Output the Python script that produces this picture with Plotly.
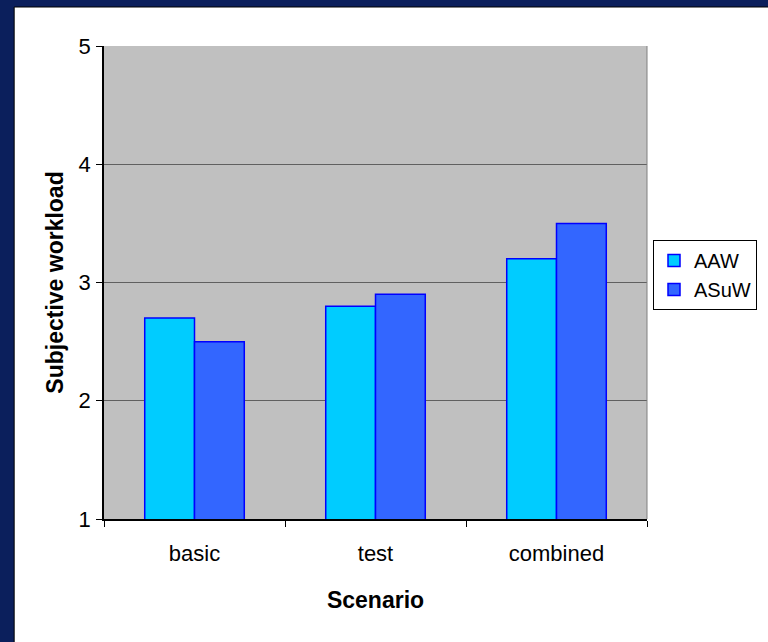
import plotly.graph_objects as go

# Data
scenarios = ["basic", "test", "combined"]
aaw = [2.7, 2.8, 3.2]
asuw = [2.5, 2.9, 3.5]
series_names = ["AAW", "ASuW"]
y_ticks = [1, 2, 3, 4, 5]

FONT = "Liberation Sans, Arial, sans-serif"
NAVY = "#0b1f5c"

fig = go.Figure()
fig.add_trace(go.Bar(
    x=scenarios, y=aaw, name=series_names[0],
    marker=dict(color="#00ccff", line=dict(color="#0000ff", width=1.5)),
))
fig.add_trace(go.Bar(
    x=scenarios, y=asuw, name=series_names[1],
    marker=dict(color="#3366ff", line=dict(color="#0000ff", width=1.5)),
))

# Plot area occupies pixels x 104..648, y 46..519 of the 768x642 page
L, R, T, B = 104, 648, 46, 519
W, H = 768, 642
pw, ph = R - L, B - T

def px(x):
    return (x - L) / pw

def py(y):
    return (B - y) / ph

shapes = [
    # navy frame strips (left and top)
    dict(type="rect", xref="paper", yref="paper",
         x0=px(-5), x1=px(14), y0=py(W), y1=py(-5),
         fillcolor=NAVY, line=dict(width=0), layer="above"),
    dict(type="rect", xref="paper", yref="paper",
         x0=px(-5), x1=px(W + 5), y0=py(7), y1=py(-5),
         fillcolor=NAVY, line=dict(width=0), layer="above"),
    # thin dark edge of the white panel
    dict(type="line", xref="paper", yref="paper",
         x0=px(14), x1=px(14), y0=py(W), y1=py(7),
         line=dict(color="#000000", width=1)),
    dict(type="line", xref="paper", yref="paper",
         x0=px(14), x1=px(W + 5), y0=py(7), y1=py(7),
         line=dict(color="#000000", width=1)),
    # right border of plot area
    dict(type="line", xref="paper", yref="paper",
         x0=1, x1=1, y0=0, y1=1,
         line=dict(color="#808080", width=1)),
]

fig.update_layout(
    width=W, height=H,
    margin=dict(l=L, r=W - R, t=T, b=H - B, pad=0),
    paper_bgcolor="#ffffff",
    plot_bgcolor="#c0c0c0",
    barmode="group",
    bargap=0.45,
    bargroupgap=0,
    font=dict(family=FONT, size=22, color="#000000"),
    shapes=shapes,
    legend=dict(
        x=px(757), y=py(240), xanchor="right", yanchor="top",
        bordercolor="#000000", borderwidth=1, bgcolor="#ffffff",
        font=dict(family=FONT, size=20, color="#000000"),
        tracegroupgap=0, itemwidth=30,
    ),
    xaxis=dict(
        type="category",
        tickson="boundaries",
        ticks="outside", ticklen=6, tickcolor="#000000", tickwidth=1,
        showline=True, linecolor="#000000", linewidth=1.5,
        showgrid=False,
        tickfont=dict(family=FONT, size=22),
        ticklabelstandoff=14,
        title=dict(text="<b>Scenario</b>", font=dict(family=FONT, size=23), standoff=27),
    ),
    yaxis=dict(
        range=[1, 5],
        tickvals=y_ticks,
        ticks="outside", ticklen=6, tickcolor="#000000", tickwidth=1,
        showline=True, linecolor="#000000", linewidth=1.5,
        showgrid=True, gridcolor="#606060", gridwidth=1,
        zeroline=False,
        tickfont=dict(family=FONT, size=22),
        ticklabelstandoff=1,
        title=dict(text="<b>Subjective workload</b>", font=dict(family=FONT, size=23), standoff=9),
    ),
)

fig.write_html("out.html")
